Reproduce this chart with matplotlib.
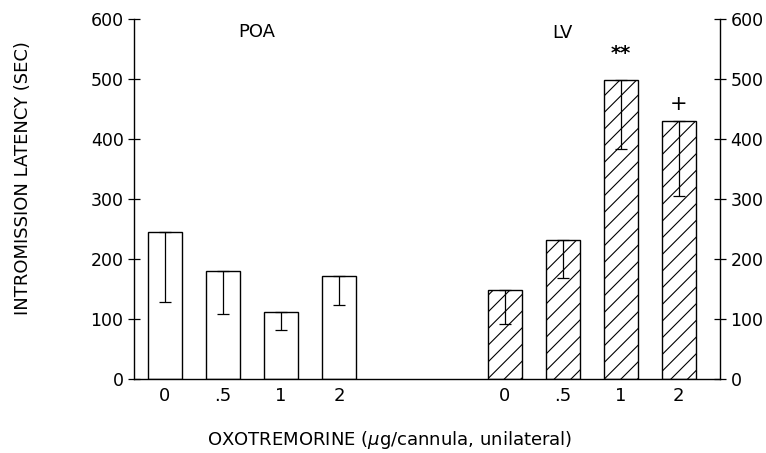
import matplotlib
matplotlib.use("Agg")
import matplotlib.pyplot as plt
import numpy as np

doses = ["0", ".5", "1", "2"]
poa_mean = [245, 180, 111, 171]
poa_err = [117, 72, 30, 48]
lv_mean = [149, 231, 499, 430]
lv_err = [57, 63, 116, 125]
lv_marks = ["", "", "**", "+"]

plt.rcParams['font.family'] = ['DejaVu Sans']
plt.rcParams['hatch.linewidth'] = 0.8

fig = plt.figure(figsize=(7.66, 4.53), dpi=100)
ax = fig.add_axes([134/766, 1-379/453, (720-134)/766, 360/453])

pos_poa = np.arange(4)
pos_lv = np.arange(4) + 5.86
w = 0.586

ax.bar(pos_poa, poa_mean, width=w, facecolor='white', edgecolor='black', linewidth=1.0)
ax.bar(pos_lv, lv_mean, width=w, facecolor='white', edgecolor='black', linewidth=1.0, hatch='//')
ax.errorbar(pos_poa, poa_mean, yerr=[poa_err, [0]*4], fmt='none', ecolor='black', elinewidth=0.9, capsize=4, capthick=0.9)
ax.errorbar(pos_lv, lv_mean, yerr=[lv_err, [0]*4], fmt='none', ecolor='black', elinewidth=0.9, capsize=4, capthick=0.9)

for p, m, s in zip(pos_lv, lv_mean, lv_marks):
    if s:
        ax.text(p, m + (43 if s == "**" else 28), s, ha='center', va='center',
                fontsize=14 if s == "**" else 15, fontweight='bold' if s == "**" else 'normal')

ax.text(1.58, 578, "POA", ha='center', va='center', fontsize=13)
ax.text(6.85, 577, "LV", ha='center', va='center', fontsize=13)

ax.set_xlim(-0.534, 9.57)
ax.set_ylim(0, 600)
ax.set_xticks(list(pos_poa) + list(pos_lv))
ax.set_xticklabels(doses + doses, fontsize=13)
ax.tick_params(axis='x', length=0, pad=6)
ax.set_yticks(range(0, 601, 100))
ax.tick_params(axis='y', direction='inout', length=9, width=0.9, labelsize=12.5, pad=3,
               right=True, labelright=True)
ax.spines['top'].set_visible(False)
for s in ['left', 'right', 'bottom']:
    ax.spines[s].set_linewidth(1.0)

ax.set_ylabel("INTROMISSION LATENCY (SEC)", fontsize=13, va='center')
ax.yaxis.set_label_coords((23-134)/586, (379-178)/360)
ax.set_xlabel("OXOTREMORINE ($\\mu$g/cannula, unilateral)", fontsize=13, va='center')
ax.xaxis.set_label_coords((390-134)/586, (379-440)/360)

fig.savefig("out.png", dpi=100)
